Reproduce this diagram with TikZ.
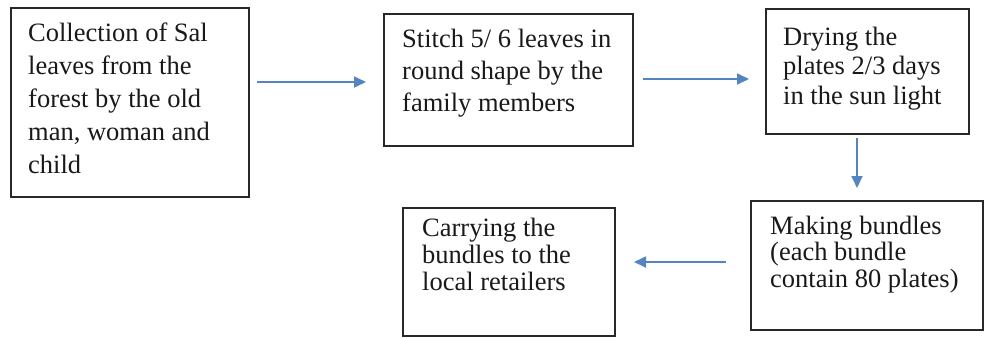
\documentclass[tikz,border=0pt]{standalone}
\usepackage{fontspec}
\setmainfont{Liberation Serif}
\usetikzlibrary{arrows.meta}
\definecolor{arrowblue}{RGB}{84,133,190}
\definecolor{boxline}{RGB}{40,40,40}
\definecolor{txtcol}{RGB}{25,25,25}
\tikzset{
  stepbox/.style={draw=boxline, line width=1.6pt, inner sep=0pt, anchor=north west},
  steptext/.style={inner sep=0pt, anchor=base west, text=txtcol},
  flow/.style={draw=arrowblue, line width=1.8pt, -{Triangle[length=12pt,width=11pt]}}
}
\newcommand{\lines}[2]{\parbox[t]{300pt}{\fontsize{26.5}{#1}\selectfont #2}}
\begin{document}
\begin{tikzpicture}[x=1pt,y=-1pt]
  \useasboundingbox (0,0) rectangle (984,338);
  % boxes
  \node[stepbox, minimum width=238pt, minimum height=189pt] (b1) at (10,7) {};
  \node[stepbox, minimum width=249pt, minimum height=132pt] (b2) at (383,13) {};
  \node[stepbox, minimum width=203pt, minimum height=125pt] (b3) at (765,8) {};
  \node[stepbox, minimum width=232pt, minimum height=129pt] (b4) at (750,200) {};
  \node[stepbox, minimum width=212pt, minimum height=128pt] (b5) at (402,207) {};
  % texts
  \node[steptext] (t1) at (28,41.7) {\lines{33}{Collection of Sal\\leaves from the\\forest by the old\\man, woman and\\child}};
  \node[steptext] (t2) at (402,47.3) {\lines{32}{Stitch 5/ 6 leaves in\\round shape by the\\family members}};
  \node[steptext] (t3) at (783,45) {\lines{29.5}{Drying the\\plates 2/3 days\\in the sun light}};
  \node[steptext] (t4) at (770,234) {\lines{26.5}{Making bundles\\(each bundle\\contain 80 plates)}};
  \node[steptext] (t5) at (422,236.7) {\lines{26.7}{Carrying the\\bundles to the\\local retailers}};
  % connector ends
  \coordinate (a1s) at (257,82);  \coordinate (a1e) at (366,82);
  \coordinate (a2s) at (643,79);  \coordinate (a2e) at (749,79);
  \coordinate (a3s) at (857,138); \coordinate (a3e) at (857,188);
  \coordinate (a4s) at (726,262); \coordinate (a4e) at (634,262);
  \draw[flow] (a1s) -- (a1e);
  \draw[flow] (a2s) -- (a2e);
  \draw[flow] (a3s) -- (a3e);
  \draw[flow] (a4s) -- (a4e);
\end{tikzpicture}
\end{document}
